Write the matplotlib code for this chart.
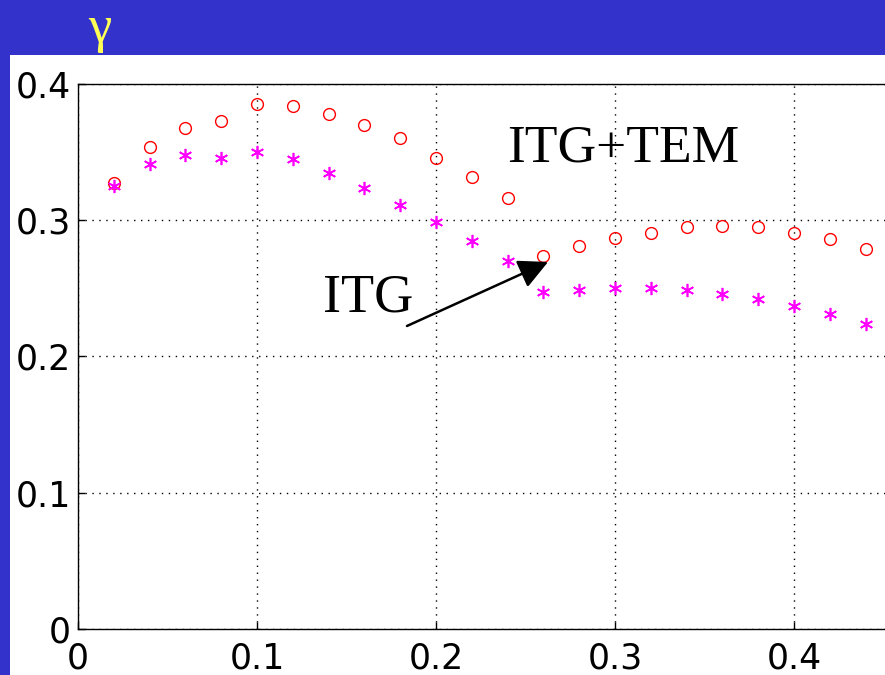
import matplotlib
matplotlib.use("Agg")
import matplotlib.pyplot as plt
from matplotlib.patches import Rectangle

x = [0.02, 0.04, 0.06, 0.08, 0.10, 0.12, 0.14, 0.16, 0.18, 0.20, 0.22,
     0.24, 0.26, 0.28, 0.30, 0.32, 0.34, 0.36, 0.38, 0.40, 0.42, 0.44]
itg_tem = [0.327, 0.354, 0.368, 0.373, 0.385, 0.384, 0.378, 0.370, 0.360, 0.346, 0.332,
           0.316, 0.274, 0.281, 0.287, 0.291, 0.295, 0.296, 0.295, 0.291, 0.286, 0.279]
itg = [0.325, 0.341, 0.348, 0.346, 0.350, 0.345, 0.335, 0.324, 0.311, 0.299, 0.285,
       0.270, 0.247, 0.249, 0.250, 0.250, 0.249, 0.246, 0.242, 0.237, 0.231, 0.224]
xticks = [0, 0.1, 0.2, 0.3, 0.4]
xticklabels = ["0", "0.1", "0.2", "0.3", "0.4"]
yticks = [0, 0.1, 0.2, 0.3, 0.4]
yticklabels = ["0", "0.1", "0.2", "0.3", "0.4"]

W, H = 885, 675
fig = plt.figure(figsize=(W / 100, H / 100), dpi=100, facecolor="#3333cc")
bg = fig.add_axes([10 / W, 0, 1 - 10 / W, 1 - 55 / H], zorder=-5)
bg.set_facecolor("white")
bg.set_axis_off()
bg.add_patch(Rectangle((0, 0), 1, 1, transform=bg.transAxes,
                       facecolor="white", edgecolor="none"))
fig.text(100 / W, 1 - 29 / H, "γ", color="#ffff55", fontsize=38,
         family="Liberation Serif", ha="center", va="center")

ax = fig.add_axes([78 / W, (H - 629) / H, (W - 78) / W, (629 - 84) / H])
ax.set_facecolor("none")
ax.set_xlim(0, (W - 78) / 1790.0)
ax.set_ylim(0, 0.4)
ax.plot(x, itg_tem, linestyle="none", marker="o", markersize=8.5,
        markerfacecolor="none", markeredgecolor="red", markeredgewidth=1.0)
ax.plot(x, itg, linestyle="none", marker=(6, 2, 0), markersize=9.5,
        color="magenta", markeredgewidth=1.2)

ax.set_xticks(xticks)
ax.set_xticklabels(xticklabels)
ax.set_yticks(yticks)
ax.set_yticklabels(yticklabels)
ax.grid(True, color="black", linestyle=(0, (1, 4)), linewidth=1.0)
ax.tick_params(direction="in", length=5, width=1, labelsize=25)
ax.tick_params(axis="x", pad=9)
ax.tick_params(axis="y", pad=5)
for lab in ax.get_xticklabels() + ax.get_yticklabels():
    lab.set_family("DejaVu Sans")
ax.spines["right"].set_visible(False)
for s in ["left", "top", "bottom"]:
    ax.spines[s].set_linewidth(1.0)

ax.text(0.2397, 0.3428, "ITG+TEM", family="Liberation Serif", fontsize=38.5,
        ha="left", va="baseline")
ax.text(0.1369, 0.2327, "ITG", family="Liberation Serif", fontsize=39,
        ha="left", va="baseline")
ax.annotate("", xy=(0.2626, 0.2694), xytext=(0.1838, 0.2224),
            arrowprops=dict(arrowstyle="-|>,head_length=1.8,head_width=0.9",
                            color="black", linewidth=1.8, shrinkA=0, shrinkB=0))

fig.savefig("out.png", dpi=100, facecolor=fig.get_facecolor())
